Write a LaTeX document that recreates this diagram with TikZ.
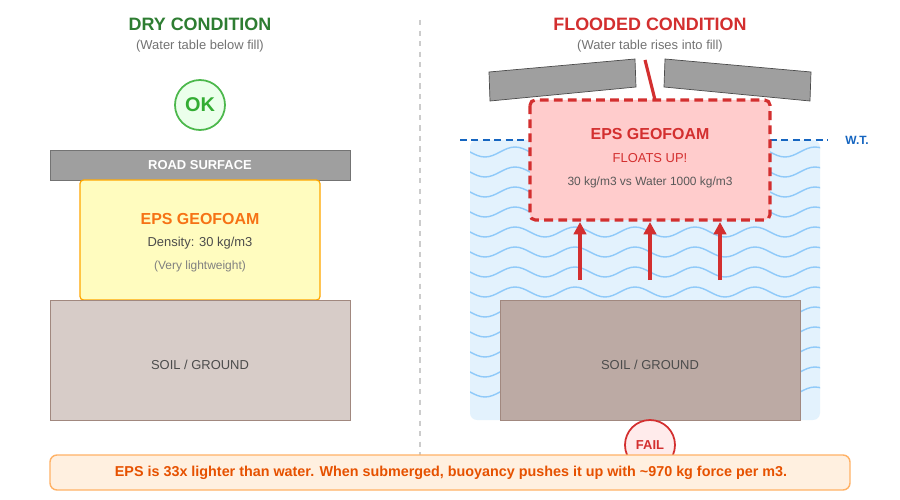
\documentclass[tikz,border=0pt]{standalone}
\usepackage{fontspec}
\setmainfont{Liberation Sans}
\usetikzlibrary{arrows.meta}
\newcommand{\fpx}[1]{\fontsize{\fpxcalc{#1}}{\fpxcalc{#1}}\selectfont}
\newcommand{\fpxcalc}[1]{\dimexpr #1\dimexpr 0.567pt\relax\relax}
\definecolor{cgreen}{HTML}{2E7D32}
\definecolor{cred}{HTML}{D32F2F}
\definecolor{corange}{HTML}{F57F17}
\definecolor{cdeep}{HTML}{E65100}
\definecolor{cblue}{HTML}{1565C0}
\definecolor{wave}{HTML}{90CAF9}
\definecolor{water}{HTML}{E3F2FD}
\begin{document}
\begin{tikzpicture}[x=0.02cm,y=-0.02cm,
  txt/.style={inner sep=0,text=#1},
  box/.style={draw=#1,line width=0.6pt}]
\useasboundingbox (0,0) rectangle (900,500);
\fill[white] (0,0) rectangle (900,500);
% divider
\draw[gray!40,dashed,line width=0.6pt] (420,20) -- (420,460);
% LEFT
\node[txt=cgreen,font=\fpx{18}\bfseries] (t1) at (200,24) {DRY CONDITION};
\node[txt=gray!90!black,font=\fpx{13}] (s1) at (200,46) {(Water table below fill)};
\node[circle,minimum size=50*0.02cm,fill=green!8,draw=green!60!black!70,line width=1pt,text=green!60!black!80,font=\fpx{20}\bfseries,inner sep=0] (ok) at (200,105) {OK};
\path[fill=gray!75,draw=gray!90!black] (50,150) rectangle (350,180);
\node[txt=white,font=\fpx{13}\bfseries] (rs) at (200,165) {ROAD SURFACE};
\path[fill=yellow!25,draw=orange!70!yellow,line width=0.7pt,rounded corners=2pt] (80,180) rectangle (320,300);
\node[txt=corange!90!red,font=\fpx{16}\bfseries] (e1) at (200,219) {EPS GEOFOAM};
\node[txt=black!70,font=\fpx{13}] (d1) at (200,243) {Density: 30 kg/m3};
\node[txt=gray,font=\fpx{12}] (l1) at (200,266) {(Very lightweight)};
\path[fill={rgb,255:red,215;green,204;blue,200},draw={rgb,255:red,161;green,136;blue,127}] (50,300) rectangle (350,420);
\node[txt=black!70,font=\fpx{13}] (g1) at (200,365) {SOIL / GROUND};
% RIGHT
\node[txt=cred,font=\fpx{18}\bfseries] (t2) at (650,24) {FLOODED CONDITION};
\node[txt=gray!90!black,font=\fpx{13}] (s2) at (650,46) {(Water table rises into fill)};
\fill[water,rounded corners=4pt] (470,140) rectangle (820,420);
\begin{scope}
\clip (470,140) rectangle (820,420);
\foreach \k in {0,...,12}{
  \draw[wave,line width=0.8pt] (440,152+20*\k) sin (455,147+20*\k) cos (470,152+20*\k) sin (485,157+20*\k) cos (500,152+20*\k)
   \foreach \i in {1,...,6}{ sin ++(15,-5) cos ++(15,5) sin ++(15,5) cos ++(15,-5)};
}
\end{scope}
\draw[cblue,line width=1pt,dash pattern=on 4pt off 2.5pt] (460,140) -- (530,140);
\draw[cblue,line width=1pt,dash pattern=on 4pt off 2.5pt] (770,140) -- (828,140);
\node[txt=cblue,font=\fpx{12}\bfseries] (wt) at (857,140) {W.T.};
\path[fill={rgb,255:red,188;green,170;blue,164},draw={rgb,255:red,161;green,136;blue,127}] (500,300) rectangle (800,420);
\node[txt=black!70,font=\fpx{13}] (g2) at (650,365) {SOIL / GROUND};
\path[fill=gray!75,draw=gray!60!black] (489,72) -- (635,59) -- (636,87) -- (490,101) -- cycle;
\path[fill=gray!75,draw=gray!60!black] (665,59) -- (811,72) -- (810,101) -- (664,87) -- cycle;
\coordinate (c1) at (645,60); \coordinate (c2) at (655,100);
\draw[cred,line width=1.8pt] (c1) -- (c2);
\path[fill=red!20,draw=cred,line width=1.8pt,dash pattern=on 5pt off 3pt,rounded corners=3pt] (530,100) rectangle (770,220);
\node[txt=cred,font=\fpx{16}\bfseries] (e2) at (650,134) {EPS GEOFOAM};
\node[txt=cred,font=\fpx{13}] (f2) at (650,158) {FLOATS UP!};
\node[txt=black!65,font=\fpx{12}] (d2) at (650,182) {30 kg/m3 vs Water 1000 kg/m3};
\foreach \x/\n in {580/a,650/b,720/c}{
  \coordinate (s\n) at (\x,280); \coordinate (e\n) at (\x,222);
  \draw[cred,line width=1.8pt,-{Triangle[length=7pt,width=7pt]}] (s\n) -- (e\n);
}
\node[circle,minimum size=50*0.02cm,fill=red!8,draw=cred,line width=1pt,text=cred,font=\fpx{13}\bfseries,inner sep=0] (fail) at (650,445) {FAIL};
% banner
\path[fill=orange!12,draw=orange!60,line width=0.8pt,rounded corners=4pt] (50,455) rectangle (850,490);
\node[txt=cdeep,font=\fpx{14.4}\bfseries] (bn) at (451,473) {EPS is 33x lighter than water. When submerged, buoyancy pushes it up with \char"7E 970 kg force per m3.};
\end{tikzpicture}
\end{document}
